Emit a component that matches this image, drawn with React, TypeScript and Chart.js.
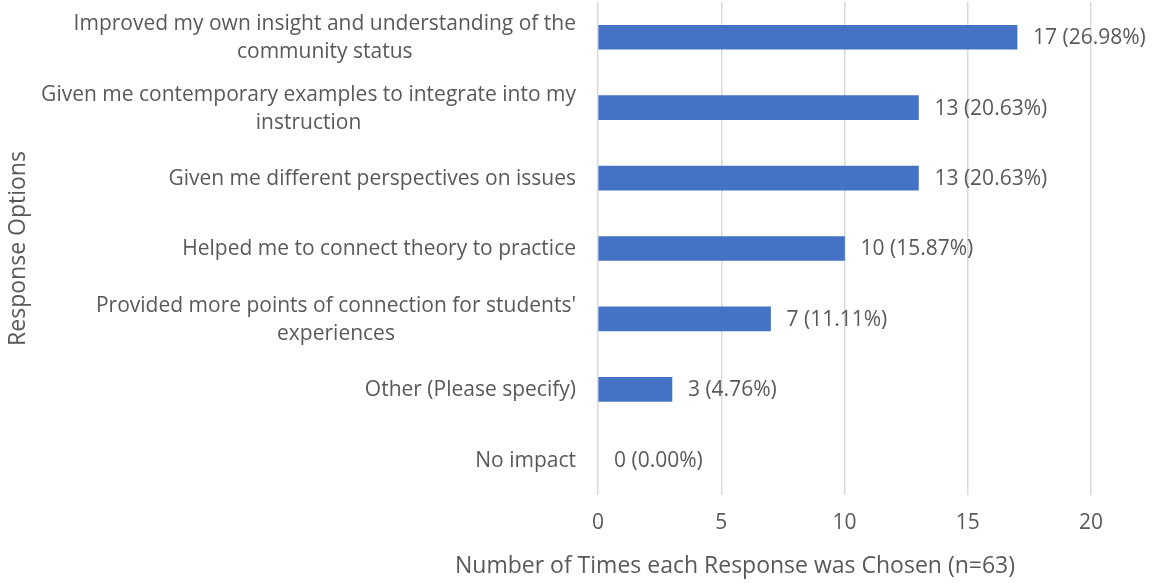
import React, { useEffect, useRef } from "react";
import { Chart, registerables } from "chart.js";

Chart.register(...registerables);

const categories: string[][] = [
  ["Improved my own insight and understanding of the", "community status"],
  ["Given me contemporary examples to integrate into my", "instruction"],
  ["Given me different perspectives on issues"],
  ["Helped me to connect theory to practice"],
  ["Provided more points of connection for students'", "experiences"],
  ["Other (Please specify)"],
  ["No impact"],
];
const counts: number[] = [17, 13, 13, 10, 7, 3, 0];
const percents: string[] = ["26.98%", "20.63%", "20.63%", "15.87%", "11.11%", "4.76%", "0.00%"];
const xTitle = "Number of Times each Response was Chosen (n=63)";
const yTitle = "Response Options";

const FONT = "'Open Sans', sans-serif";
const TEXT = "#595959";
const BAR = "#4472C4";
const GRID = "#d9d9d9";
const TICK_SIZE = 21;
const TITLE_SIZE = 23;
const LINE = 28;

const textPlugin = {
  id: "customText",
  afterDraw(chart: any) {
    const { ctx, chartArea } = chart;
    const yScale = chart.scales.y;
    ctx.save();
    ctx.fillStyle = TEXT;
    ctx.font = `${TICK_SIZE}px ${FONT}`;
    ctx.textBaseline = "middle";
    categories.forEach((lines, i) => {
      const cy = yScale.getPixelForTick(i) + 1;
      const widths = lines.map((l) => ctx.measureText(l).width);
      const bw = Math.max(...widths);
      const right = chartArea.left - 22;
      const cx = right - bw / 2;
      ctx.textAlign = "center";
      lines.forEach((l, j) => {
        ctx.fillText(l, cx, cy + (j - (lines.length - 1) / 2) * LINE);
      });
    });
    const meta = chart.getDatasetMeta(0);
    ctx.textAlign = "left";
    meta.data.forEach((bar: any, i: number) => {
      ctx.fillText(`${counts[i]} (${percents[i]})`, bar.x + 16, bar.y + 1);
    });
    ctx.font = `${TITLE_SIZE}px ${FONT}`;
    ctx.textAlign = "center";
    ctx.fillText(xTitle, 735, 566);
    ctx.save();
    ctx.translate(18, (chartArea.top + chartArea.bottom) / 2);
    ctx.rotate(-Math.PI / 2);
    ctx.fillText(yTitle, 0, 0);
    ctx.restore();
    ctx.restore();
  },
};

export default function App() {
  const ref = useRef<HTMLCanvasElement | null>(null);
  useEffect(() => {
    if (!ref.current) return;
    const chart = new Chart(ref.current, {
      type: "bar",
      data: {
        labels: categories.map((c) => c.join(" ")),
        datasets: [
          {
            data: counts,
            backgroundColor: (c: any) => (c.raw === 0 ? "rgba(0,0,0,0)" : BAR),
            borderWidth: 0,
            barThickness: 24,
          },
        ],
      },
      options: {
        indexAxis: "y",
        animation: false,
        responsive: true,
        maintainAspectRatio: false,
        layout: { padding: { top: 2, right: 66, left: 0, bottom: 0 } },
        plugins: {
          legend: { display: false },
          tooltip: { enabled: false },
        },
        scales: {
          x: {
            min: 0,
            max: 20,
            ticks: {
              stepSize: 5,
              color: TEXT,
              font: { family: FONT, size: TICK_SIZE },
              padding: 15,
            },
            grid: { color: GRID, lineWidth: 1.5, drawTicks: false },
            border: { display: false },
            afterFit: (s: any) => {
              s.height = 88;
            },
          },
          y: {
            ticks: { display: false },
            grid: { display: false, drawTicks: false },
            border: { display: false },
            afterFit: (s: any) => {
              s.width = 598;
            },
          },
        },
      },
      plugins: [textPlugin],
    });
    return () => chart.destroy();
  }, []);
  return (
    <div style={{ position: "absolute", left: 0, top: 0, width: 1157, height: 583, background: "#fff" }}>
      <canvas ref={ref} />
    </div>
  );
}
